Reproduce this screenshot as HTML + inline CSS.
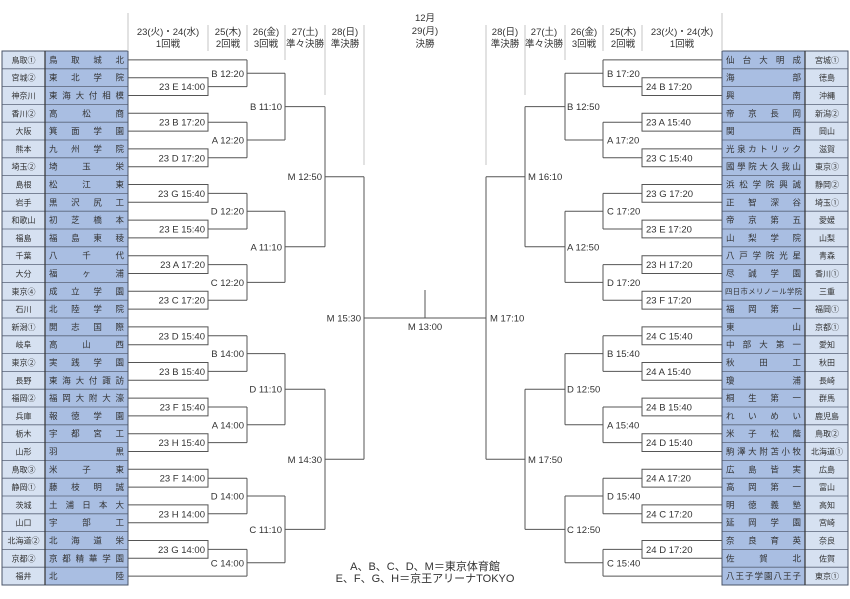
<!DOCTYPE html>
<html><head><meta charset="utf-8"><style>
html,body{margin:0;padding:0;background:#fff;}
svg{display:block;}
text{font-family:"Liberation Sans","Noto Sans CJK JP",sans-serif;fill:#333;}
.h{font-size:9.5px;text-anchor:middle;}
.l{font-size:9.5px;}
.e{text-anchor:end;}
.p{font-size:8px;text-anchor:middle;}
.s{font-size:8.5px;}
</style></head><body>
<svg width="850" height="599" viewBox="0 0 850 599" xmlns="http://www.w3.org/2000/svg">
<defs>
<g id="tbl">
<rect x="2" y="51" width="43" height="534" fill="#d6e1f1"/>
<rect x="45" y="51" width="83" height="534" fill="#a9bee2"/>
<path d="M2 68.8H128M2 86.6H128M2 104.4H128M2 122.2H128M2 140H128M2 157.8H128M2 175.6H128M2 193.4H128M2 211.2H128M2 229H128M2 246.8H128M2 264.6H128M2 282.4H128M2 300.2H128M2 318H128M2 335.8H128M2 353.6H128M2 371.4H128M2 389.2H128M2 407H128M2 424.8H128M2 442.6H128M2 460.4H128M2 478.2H128M2 496H128M2 513.8H128M2 531.6H128M2 549.4H128M2 567.2H128" stroke="#5a6478" stroke-width="0.8" fill="none"/>
<rect x="2" y="51" width="126" height="534" fill="none" stroke="#4a5468" stroke-width="1"/>
<path d="M45 51V585" stroke="#333" stroke-width="1.2"/>
</g>
<path id="br" fill="none" stroke="#555" stroke-width="1" d="M128 77.7H208V95.5H128M208 86.6H247
M128 113.3H208V131.1H128M208 122.2H247
M128 148.9H208V166.7H128M208 157.8H247
M128 184.5H208V202.3H128M208 193.4H247
M128 220.1H208V237.9H128M208 229H247
M128 255.7H208V273.5H128M208 264.6H247
M128 291.3H208V309.1H128M208 300.2H247
M128 326.9H208V344.7H128M208 335.8H247
M128 362.5H208V380.3H128M208 371.4H247
M128 398.1H208V415.9H128M208 407H247
M128 433.7H208V451.5H128M208 442.6H247
M128 469.3H208V487.1H128M208 478.2H247
M128 504.9H208V522.7H128M208 513.8H247
M128 540.5H208V558.3H128M208 549.4H247
M128 59.9H247M128 576.1H247
M247 59.9V86.6M247 73.25H285
M247 122.2V157.8M247 140H285
M247 193.4V229M247 211.2H285
M247 264.6V300.2M247 282.4H285
M247 335.8V371.4M247 353.6H285
M247 407V442.6M247 424.8H285
M247 478.2V513.8M247 496H285
M247 549.4V576.1M247 562.75H285
M285 73.25V140M285 106.6H325
M285 211.2V282.4M285 246.8H325
M285 353.6V424.8M285 389.2H325
M285 496V562.75M285 529.4H325
M325 106.6V246.8M325 176.7H364
M325 389.2V529.4M325 459.3H364
M364 176.7V459.3M364 318H425"/>
<path id="hd" fill="none" stroke="#c4c4c4" stroke-width="1" d="M128 13V51M208 25V51M247 25V51M285 25V60M325 25V95M364 25V165"/>
</defs>

<use href="#tbl"/>
<use href="#tbl" transform="translate(850,0) scale(-1,1)"/>
<use href="#hd"/>
<use href="#hd" transform="translate(850,0) scale(-1,1)"/>
<use href="#br"/>
<use href="#br" transform="translate(850,0) scale(-1,1)"/>
<path d="M425 290V318" stroke="#555" stroke-width="1"/>

<!-- headers -->
<text class="h" x="168" y="35">23(火)・24(水)</text><text class="h" x="168" y="47">1回戦</text>
<text class="h" x="228" y="35">25(木)</text><text class="h" x="228" y="47">2回戦</text>
<text class="h" x="266" y="35">26(金)</text><text class="h" x="266" y="47">3回戦</text>
<text class="h" x="305" y="35">27(土)</text><text class="h" x="305" y="47">準々決勝</text>
<text class="h" x="345" y="35">28(日)</text><text class="h" x="345" y="47">準決勝</text>
<text class="h" x="425" y="21">12月</text><text class="h" x="425" y="34">29(月)</text><text class="h" x="425" y="47">決勝</text>
<text class="h" x="505" y="35">28(日)</text><text class="h" x="505" y="47">準決勝</text>
<text class="h" x="544" y="35">27(土)</text><text class="h" x="544" y="47">準々決勝</text>
<text class="h" x="584" y="35">26(金)</text><text class="h" x="584" y="47">3回戦</text>
<text class="h" x="623" y="35">25(木)</text><text class="h" x="623" y="47">2回戦</text>
<text class="h" x="682" y="35">23(火)・24(水)</text><text class="h" x="682" y="47">1回戦</text>

<!-- left table -->
<g class="p">
<text class="p" x="23.5" y="62.9">鳥取①</text><text class="p" x="23.5" y="80.7">宮城②</text><text class="p" x="23.5" y="98.5">神奈川</text><text class="p" x="23.5" y="116.3">香川②</text><text class="p" x="23.5" y="134.1">大阪</text><text class="p" x="23.5" y="151.9">熊本</text><text class="p" x="23.5" y="169.7">埼玉②</text><text class="p" x="23.5" y="187.5">島根</text><text class="p" x="23.5" y="205.3">岩手</text><text class="p" x="23.5" y="223.1">和歌山</text><text class="p" x="23.5" y="240.9">福島</text><text class="p" x="23.5" y="258.7">千葉</text><text class="p" x="23.5" y="276.5">大分</text><text class="p" x="23.5" y="294.3">東京④</text><text class="p" x="23.5" y="312.1">石川</text><text class="p" x="23.5" y="329.9">新潟①</text><text class="p" x="23.5" y="347.7">岐阜</text><text class="p" x="23.5" y="365.5">東京②</text><text class="p" x="23.5" y="383.3">長野</text><text class="p" x="23.5" y="401.1">福岡②</text><text class="p" x="23.5" y="418.9">兵庫</text><text class="p" x="23.5" y="436.7">栃木</text><text class="p" x="23.5" y="454.5">山形</text><text class="p" x="23.5" y="472.3">鳥取③</text><text class="p" x="23.5" y="490.1">静岡①</text><text class="p" x="23.5" y="507.9">茨城</text><text class="p" x="23.5" y="525.7">山口</text><text class="p" x="23.5" y="543.5">北海道②</text><text class="p" x="23.5" y="561.3">京都②</text><text class="p" x="23.5" y="579.1">福井</text>
</g>
<g>
<text class="s" x="49" y="62.9" textLength="75" lengthAdjust="spacing">鳥取城北</text>
<text class="s" x="49" y="80.7" textLength="75" lengthAdjust="spacing">東北学院</text>
<text class="s" x="49" y="98.5" textLength="75" lengthAdjust="spacing">東海大付相模</text>
<text class="s" x="49" y="116.3" textLength="75" lengthAdjust="spacing">高松商</text>
<text class="s" x="49" y="134.1" textLength="75" lengthAdjust="spacing">箕面学園</text>
<text class="s" x="49" y="151.9" textLength="75" lengthAdjust="spacing">九州学院</text>
<text class="s" x="49" y="169.7" textLength="75" lengthAdjust="spacing">埼玉栄</text>
<text class="s" x="49" y="187.5" textLength="75" lengthAdjust="spacing">松江東</text>
<text class="s" x="49" y="205.3" textLength="75" lengthAdjust="spacing">黒沢尻工</text>
<text class="s" x="49" y="223.1" textLength="75" lengthAdjust="spacing">初芝橋本</text>
<text class="s" x="49" y="240.9" textLength="75" lengthAdjust="spacing">福島東稜</text>
<text class="s" x="49" y="258.7" textLength="75" lengthAdjust="spacing">八千代</text>
<text class="s" x="49" y="276.5" textLength="75" lengthAdjust="spacing">福ヶ浦</text>
<text class="s" x="49" y="294.3" textLength="75" lengthAdjust="spacing">成立学園</text>
<text class="s" x="49" y="312.1" textLength="75" lengthAdjust="spacing">北陸学院</text>
<text class="s" x="49" y="329.9" textLength="75" lengthAdjust="spacing">開志国際</text>
<text class="s" x="49" y="347.7" textLength="75" lengthAdjust="spacing">高山西</text>
<text class="s" x="49" y="365.5" textLength="75" lengthAdjust="spacing">実践学園</text>
<text class="s" x="49" y="383.3" textLength="75" lengthAdjust="spacing">東海大付諏訪</text>
<text class="s" x="49" y="401.1" textLength="75" lengthAdjust="spacing">福岡大附大濠</text>
<text class="s" x="49" y="418.9" textLength="75" lengthAdjust="spacing">報徳学園</text>
<text class="s" x="49" y="436.7" textLength="75" lengthAdjust="spacing">宇都宮工</text>
<text class="s" x="49" y="454.5" textLength="75" lengthAdjust="spacing">羽黒</text>
<text class="s" x="49" y="472.3" textLength="75" lengthAdjust="spacing">米子東</text>
<text class="s" x="49" y="490.1" textLength="75" lengthAdjust="spacing">藤枝明誠</text>
<text class="s" x="49" y="507.9" textLength="75" lengthAdjust="spacing">土浦日本大</text>
<text class="s" x="49" y="525.7" textLength="75" lengthAdjust="spacing">宇部工</text>
<text class="s" x="49" y="543.5" textLength="75" lengthAdjust="spacing">北海道栄</text>
<text class="s" x="49" y="561.3" textLength="75" lengthAdjust="spacing">京都精華学園</text>
<text class="s" x="49" y="579.1" textLength="75" lengthAdjust="spacing">北陸</text>
</g>

<!-- right table -->
<g>
<text class="p" x="827" y="62.9">宮城①</text><text class="p" x="827" y="80.7">徳島</text><text class="p" x="827" y="98.5">沖縄</text><text class="p" x="827" y="116.3">新潟②</text><text class="p" x="827" y="134.1">岡山</text><text class="p" x="827" y="151.9">滋賀</text><text class="p" x="827" y="169.7">東京③</text><text class="p" x="827" y="187.5">静岡②</text><text class="p" x="827" y="205.3">埼玉①</text><text class="p" x="827" y="223.1">愛媛</text><text class="p" x="827" y="240.9">山梨</text><text class="p" x="827" y="258.7">青森</text><text class="p" x="827" y="276.5">香川①</text><text class="p" x="827" y="294.3">三重</text><text class="p" x="827" y="312.1">福岡①</text><text class="p" x="827" y="329.9">京都①</text><text class="p" x="827" y="347.7">愛知</text><text class="p" x="827" y="365.5">秋田</text><text class="p" x="827" y="383.3">長崎</text><text class="p" x="827" y="401.1">群馬</text><text class="p" x="827" y="418.9">鹿児島</text><text class="p" x="827" y="436.7">鳥取②</text><text class="p" x="827" y="454.5">北海道①</text><text class="p" x="827" y="472.3">広島</text><text class="p" x="827" y="490.1">富山</text><text class="p" x="827" y="507.9">高知</text><text class="p" x="827" y="525.7">宮崎</text><text class="p" x="827" y="543.5">奈良</text><text class="p" x="827" y="561.3">佐賀</text><text class="p" x="827" y="579.1">東京①</text>
</g>
<g>
<text class="s" x="726" y="62.9" textLength="75" lengthAdjust="spacing">仙台大明成</text>
<text class="s" x="726" y="80.7" textLength="75" lengthAdjust="spacing">海部</text>
<text class="s" x="726" y="98.5" textLength="75" lengthAdjust="spacing">興南</text>
<text class="s" x="726" y="116.3" textLength="75" lengthAdjust="spacing">帝京長岡</text>
<text class="s" x="726" y="134.1" textLength="75" lengthAdjust="spacing">関西</text>
<text class="s" x="726" y="151.9" textLength="75" lengthAdjust="spacing">光泉カトリック</text>
<text class="s" x="726" y="169.7" textLength="75" lengthAdjust="spacing">國學院大久我山</text>
<text class="s" x="726" y="187.5" textLength="75" lengthAdjust="spacing">浜松学院興誠</text>
<text class="s" x="726" y="205.3" textLength="75" lengthAdjust="spacing">正智深谷</text>
<text class="s" x="726" y="223.1" textLength="75" lengthAdjust="spacing">帝京第五</text>
<text class="s" x="726" y="240.9" textLength="75" lengthAdjust="spacing">山梨学院</text>
<text class="s" x="726" y="258.7" textLength="75" lengthAdjust="spacing">八戸学院光星</text>
<text class="s" x="726" y="276.5" textLength="75" lengthAdjust="spacing">尽誠学園</text>
<text class="s" x="725" y="294" style="font-size:7.3px" textLength="77" lengthAdjust="spacing">四日市メリノール学院</text>
<text class="s" x="726" y="312.1" textLength="75" lengthAdjust="spacing">福岡第一</text>
<text class="s" x="726" y="329.9" textLength="75" lengthAdjust="spacing">東山</text>
<text class="s" x="726" y="347.7" textLength="75" lengthAdjust="spacing">中部大第一</text>
<text class="s" x="726" y="365.5" textLength="75" lengthAdjust="spacing">秋田工</text>
<text class="s" x="726" y="383.3" textLength="75" lengthAdjust="spacing">瓊浦</text>
<text class="s" x="726" y="401.1" textLength="75" lengthAdjust="spacing">桐生第一</text>
<text class="s" x="726" y="418.9" textLength="75" lengthAdjust="spacing">れいめい</text>
<text class="s" x="726" y="436.7" textLength="75" lengthAdjust="spacing">米子松蔭</text>
<text class="s" x="726" y="454.5" textLength="75" lengthAdjust="spacing">駒澤大附苫小牧</text>
<text class="s" x="726" y="472.3" textLength="75" lengthAdjust="spacing">広島皆実</text>
<text class="s" x="726" y="490.1" textLength="75" lengthAdjust="spacing">高岡第一</text>
<text class="s" x="726" y="507.9" textLength="75" lengthAdjust="spacing">明徳義塾</text>
<text class="s" x="726" y="525.7" textLength="75" lengthAdjust="spacing">延岡学園</text>
<text class="s" x="726" y="543.5" textLength="75" lengthAdjust="spacing">奈良育英</text>
<text class="s" x="726" y="561.3" textLength="75" lengthAdjust="spacing">佐賀北</text>
<text class="s" x="726" y="579.1" textLength="75" lengthAdjust="spacing">八王子学園八王子</text>
</g>

<!-- left match labels -->
<g class="l e" text-anchor="end">
<text class="l e" x="205" y="90.1">23 E 14:00</text>
<text class="l e" x="205" y="125.7">23 B 17:20</text>
<text class="l e" x="205" y="161.3">23 D 17:20</text>
<text class="l e" x="205" y="196.9">23 G 15:40</text>
<text class="l e" x="205" y="232.5">23 E 15:40</text>
<text class="l e" x="205" y="268.1">23 A 17:20</text>
<text class="l e" x="205" y="303.7">23 C 17:20</text>
<text class="l e" x="205" y="339.3">23 D 15:40</text>
<text class="l e" x="205" y="374.9">23 B 15:40</text>
<text class="l e" x="205" y="410.5">23 F 15:40</text>
<text class="l e" x="205" y="446.1">23 H 15:40</text>
<text class="l e" x="205" y="481.7">23 F 14:00</text>
<text class="l e" x="205" y="517.3">23 H 14:00</text>
<text class="l e" x="205" y="552.9">23 G 14:00</text>
<text class="l e" x="244" y="76.8">B 12:20</text>
<text class="l e" x="244" y="143.5">A 12:20</text>
<text class="l e" x="244" y="214.7">D 12:20</text>
<text class="l e" x="244" y="285.9">C 12:20</text>
<text class="l e" x="244" y="357.1">B 14:00</text>
<text class="l e" x="244" y="428.3">A 14:00</text>
<text class="l e" x="244" y="499.5">D 14:00</text>
<text class="l e" x="244" y="566.3">C 14:00</text>
<text class="l e" x="282" y="110.1">B 11:10</text>
<text class="l e" x="282" y="250.3">A 11:10</text>
<text class="l e" x="282" y="392.7">D 11:10</text>
<text class="l e" x="282" y="532.9">C 11:10</text>
<text class="l e" x="322" y="180.2">M 12:50</text>
<text class="l e" x="322" y="462.8">M 14:30</text>
<text class="l e" x="361" y="321.5">M 15:30</text>
</g>

<!-- right match labels -->
<g>
<text class="l" x="646" y="90.1">24 B 17:20</text>
<text class="l" x="646" y="125.7">23 A 15:40</text>
<text class="l" x="646" y="161.3">23 C 15:40</text>
<text class="l" x="646" y="196.9">23 G 17:20</text>
<text class="l" x="646" y="232.5">23 E 17:20</text>
<text class="l" x="646" y="268.1">23 H 17:20</text>
<text class="l" x="646" y="303.7">23 F 17:20</text>
<text class="l" x="646" y="339.3">24 C 15:40</text>
<text class="l" x="646" y="374.9">24 A 15:40</text>
<text class="l" x="646" y="410.5">24 B 15:40</text>
<text class="l" x="646" y="446.1">24 D 15:40</text>
<text class="l" x="646" y="481.7">24 A 17:20</text>
<text class="l" x="646" y="517.3">24 C 17:20</text>
<text class="l" x="646" y="552.9">24 D 17:20</text>
<text class="l" x="607" y="76.8">B 17:20</text>
<text class="l" x="607" y="143.5">A 17:20</text>
<text class="l" x="607" y="214.7">C 17:20</text>
<text class="l" x="607" y="285.9">D 17:20</text>
<text class="l" x="607" y="357.1">B 15:40</text>
<text class="l" x="607" y="428.3">A 15:40</text>
<text class="l" x="607" y="499.5">D 15:40</text>
<text class="l" x="607" y="566.3">C 15:40</text>
<text class="l" x="567" y="110.1">B 12:50</text>
<text class="l" x="567" y="250.3">A 12:50</text>
<text class="l" x="567" y="392.7">D 12:50</text>
<text class="l" x="567" y="532.9">C 12:50</text>
<text class="l" x="528" y="180.2">M 16:10</text>
<text class="l" x="528" y="462.8">M 17:50</text>
<text class="l" x="490" y="321.5">M 17:10</text>
</g>
<text class="h" x="425" y="330">M 13:00</text>

<text x="425" y="570" style="font-size:11px;text-anchor:middle">A、B、C、D、M＝東京体育館</text>
<text x="425" y="582" style="font-size:11px;text-anchor:middle">E、F、G、H＝京王アリーナTOKYO</text>
</svg>
</body></html>
